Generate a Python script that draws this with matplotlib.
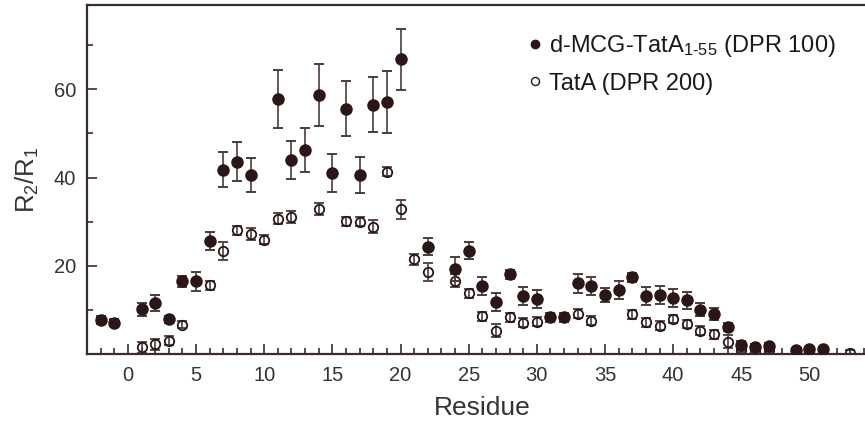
import matplotlib
matplotlib.use("Agg")
import matplotlib.pyplot as plt
from matplotlib.ticker import MultipleLocator, FixedLocator
from matplotlib.lines import Line2D

plt.rcParams['font.family'] = ['Liberation Sans', 'DejaVu Sans']
plt.rcParams['mathtext.default'] = 'regular'

# d-MCG-TatA(1-55) (DPR 100) -- filled circles
res_mcg = [-2, -1, 1, 2, 3, 4, 5, 6, 7, 8, 9, 11, 12, 13, 14, 15, 16, 17, 18, 19, 20,
           22, 24, 25, 26, 27, 28, 29, 30, 31, 32, 33, 34, 35, 36, 37, 38, 39, 40, 41,
           42, 43, 44, 45, 46, 47, 49, 50, 51]
val_mcg = [7.8, 7.2, 10.2, 11.6, 8.0, 16.5, 16.5, 25.7, 41.8, 43.6, 40.6, 57.7, 44.0,
           46.2, 58.6, 41.1, 55.6, 40.6, 56.5, 57.1, 66.7, 24.4, 19.4, 23.5, 15.4, 11.9,
           18.1, 13.2, 12.5, 8.4, 8.4, 16.1, 15.4, 13.4, 14.6, 17.4, 13.2, 13.4, 12.7,
           12.2, 10.1, 9.2, 6.2, 2.2, 1.6, 1.8, 0.9, 1.2, 1.2]
err_mcg = [1.0, 0.8, 1.5, 1.8, 0.8, 1.2, 2.2, 2.0, 3.9, 4.4, 3.8, 6.6, 4.3, 4.9, 7.0,
           4.3, 6.2, 4.1, 6.2, 7.0, 7.0, 2.0, 2.7, 2.0, 2.0, 2.0, 1.0, 2.0, 2.0, 1.0,
           1.0, 2.2, 2.0, 1.6, 2.0, 1.0, 2.0, 2.0, 2.0, 2.0, 1.5, 1.3, 0.8, 0.8, 0.8,
           0.8, 0.5, 0.5, 0.5]

# TatA (DPR 200) -- open circles
res_tata = [1, 2, 3, 4, 6, 7, 8, 9, 10, 11, 12, 14, 16, 17, 18, 19, 20, 21, 22, 24, 25,
            26, 27, 28, 29, 30, 33, 34, 37, 38, 39, 40, 41, 42, 43, 44, 45, 46, 47, 50, 53]
val_tata = [1.6, 2.3, 3.1, 6.7, 15.6, 23.4, 28.1, 27.2, 25.9, 30.7, 31.1, 32.9, 30.1,
            30.0, 28.9, 41.3, 32.8, 21.5, 18.6, 16.7, 13.8, 8.6, 5.4, 8.4, 7.2, 7.4,
            9.2, 7.6, 9.1, 7.3, 6.5, 8.0, 6.9, 5.4, 4.6, 2.9, 1.0, 0.6, 1.0, 0.5, 0.4]
err_tata = [1.3, 1.3, 1.0, 0.8, 1.0, 2.0, 1.0, 1.3, 1.0, 1.3, 1.3, 1.4, 1.0, 1.0, 1.5,
            1.0, 2.1, 1.2, 2.0, 1.5, 1.0, 1.0, 1.4, 1.0, 1.0, 1.0, 1.0, 1.0, 1.0, 1.0,
            1.0, 1.0, 1.0, 1.0, 1.0, 1.5, 0.5, 0.5, 0.5, 0.5, 0.5]

xticks = [0, 5, 10, 15, 20, 25, 30, 35, 40, 45, 50]
yticks = [20, 40, 60]
label_mcg = 'd-MCG-TatA$_{1\u201055}$ (DPR 100)'
label_tata = 'TatA (DPR 200)'

dark = '#2a1616'
axcol = '#3a2c2c'
ecol = '#4a3c3c'
txt = '#333333'

fig = plt.figure(figsize=(8.65, 4.26), dpi=100)
ax = fig.add_axes([0.1006, 0.168, 0.914, 0.820])

ax.errorbar(res_tata, val_tata, yerr=err_tata, fmt='o', ms=6.8, mfc='none', mec=dark,
            mew=1.3, ecolor=ecol, elinewidth=1.2, capsize=3.4, capthick=1.4, zorder=2)
ax.errorbar(res_mcg, val_mcg, yerr=err_mcg, fmt='o', ms=8.0, mfc=dark, mec=dark,
            ecolor=ecol, elinewidth=1.2, capsize=3.6, capthick=1.4, zorder=3)

ax.set_xlim(-3, 55)
ax.set_ylim(0, 79)

ax.xaxis.set_major_locator(FixedLocator(xticks))
ax.xaxis.set_minor_locator(MultipleLocator(1))
ax.yaxis.set_major_locator(FixedLocator(yticks))
ax.yaxis.set_minor_locator(FixedLocator([10, 30, 50, 70]))

ax.tick_params(which='both', direction='in', colors=axcol, labelcolor=txt,
               labelsize=14.5, top=False, right=False, width=1.2)
ax.tick_params(which='major', length=7, pad=8)
ax.tick_params(which='minor', length=4)

for s in ['left', 'bottom', 'top']:
    ax.spines[s].set_color(axcol)
    ax.spines[s].set_linewidth(1.6)
ax.spines['right'].set_visible(False)

ax.set_xlabel('Residue', fontsize=19, color=txt, labelpad=8)
ax.set_ylabel('R$_2$/R$_1$', fontsize=18.5, color=txt, labelpad=9)

handles = [Line2D([], [], ls='none', marker='o', ms=6.0, mfc=dark, mec=dark),
           Line2D([], [], ls='none', marker='o', ms=5.8, mfc='none', mec=dark, mew=1.0)]
leg = ax.legend(handles, [label_mcg, label_tata], loc='upper left',
                bbox_to_anchor=(0.592, 0.945), bbox_transform=fig.transFigure,
                frameon=False, fontsize=17, handletextpad=0.05, handlelength=1.1,
                labelspacing=0.58, borderaxespad=0)
for t in leg.get_texts():
    t.set_color('#1a1a1a')

fig.savefig('out.png', dpi=100)
